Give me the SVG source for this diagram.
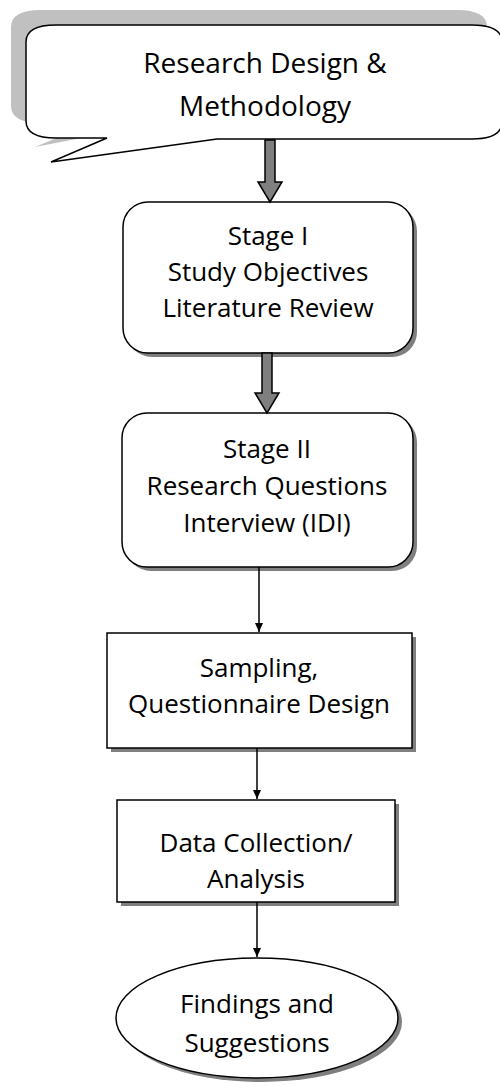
<svg xmlns="http://www.w3.org/2000/svg" width="500" height="1086" viewBox="0 0 500 1086">
<defs>
<style>
.t{font-family:"Open Sans","Noto Sans",sans-serif;font-size:26px;fill:#000;text-anchor:middle}
.tc{font-size:28px}
.box{fill:#fff;stroke:#000;stroke-width:1.5}
.sh{fill:#7f7f7f}
.thick{fill:#7f7f7f;stroke:#000;stroke-width:1.5}
.thin{stroke:#000;stroke-width:1.5;fill:none}
</style>
<marker id="ah" markerWidth="10" markerHeight="10" refX="9" refY="5" orient="auto" markerUnits="userSpaceOnUse">
<path d="M0,1 L9,5 L0,9 Z" fill="#000"/>
</marker>
</defs>
<rect width="500" height="1086" fill="#fff"/>

<g id="callout">
<path d="M41,10 H457 Q487,10 487,27 V115 H200 L35,147 L92,123 H41 Q11,123 11,106 V27 Q11,10 41,10 Z" fill="#c0c0c0"/>
<path class="box" d="M56,25 H472 Q502,25 502,42 V122 Q502,139 472,139 H217 L51,162 L107,138 H56 Q26,138 26,121 V42 Q26,25 56,25 Z"/>
<text class="t tc" x="265" y="73">Research Design &amp;</text>
<text class="t tc" x="265" y="116">Methodology</text>
</g>

<g id="stage1">
<rect class="sh" x="127" y="206" width="290" height="151" rx="25"/>
<rect class="box" x="123" y="202" width="290" height="151" rx="25"/>
<text class="t" x="268" y="245">Stage I</text>
<text class="t" x="268" y="281">Study Objectives</text>
<text class="t" x="268" y="317">Literature Review</text>
</g>

<g id="stage2">
<rect class="sh" x="126" y="417" width="291" height="154" rx="25"/>
<rect class="box" x="122" y="413" width="291" height="154" rx="25"/>
<text class="t" x="267" y="458">Stage II</text>
<text class="t" x="267" y="495">Research Questions</text>
<text class="t" x="267" y="532">Interview (IDI)</text>
</g>

<g id="sampling">
<rect class="sh" x="111" y="637" width="305" height="115"/>
<rect class="box" x="107" y="633" width="305" height="115"/>
<text class="t" x="259" y="677">Sampling,</text>
<text class="t" x="259" y="713">Questionnaire Design</text>
</g>

<g id="datacollection">
<rect class="sh" x="121" y="804" width="278" height="102"/>
<rect class="box" x="117" y="800" width="278" height="102"/>
<text class="t" x="256" y="852">Data Collection/</text>
<text class="t" x="256" y="888">Analysis</text>
</g>

<g id="findings">
<ellipse class="sh" cx="261" cy="1022" rx="141" ry="60"/>
<ellipse class="box" cx="257" cy="1018" rx="141" ry="60"/>
<text class="t" x="257" y="1013">Findings and</text>
<text class="t" x="257" y="1052">Suggestions</text>
</g>

<g id="connectors">
<path class="thick" d="M265,140 H275 V182 H282 L270,202 L258,182 H265 Z"/>
<path class="thick" d="M262,353 H272 V393 H279 L267,413 L255,393 H262 Z"/>
<line class="thin" x1="259" y1="567" x2="259" y2="632" marker-end="url(#ah)"/>
<line class="thin" x1="257" y1="748" x2="257" y2="799" marker-end="url(#ah)"/>
<line class="thin" x1="257" y1="902" x2="257" y2="957" marker-end="url(#ah)"/>
</g>
</svg>
